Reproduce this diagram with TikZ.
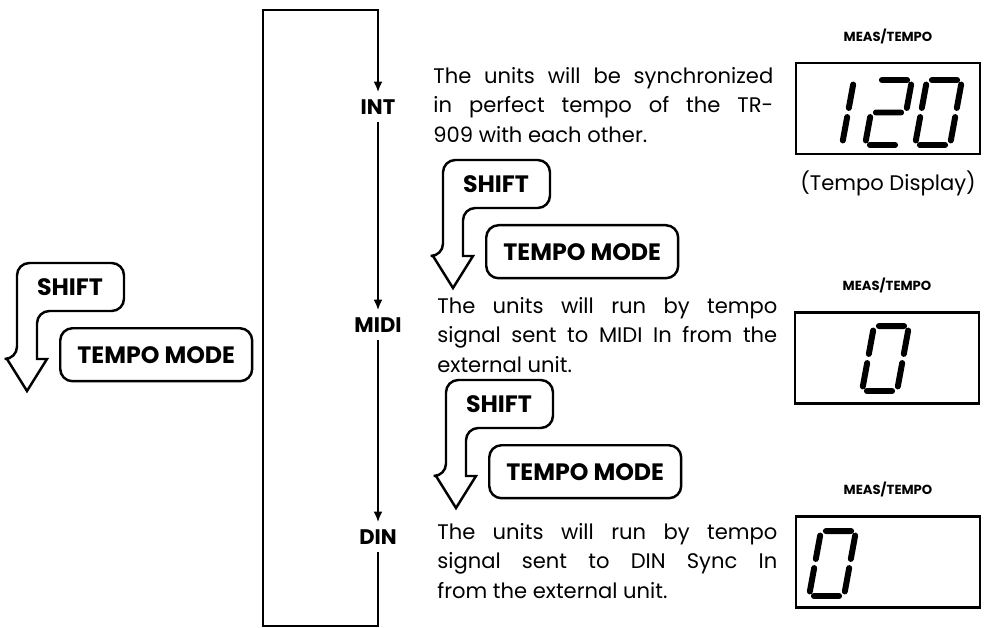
\documentclass[tikz,border=0pt]{standalone}
\usepackage{fontspec}
\setmainfont{Poppins}
\usetikzlibrary{arrows.meta,positioning}

% one cell of the seven segment readout, placed by its lower left corner
\newcommand\lcddigit[2]{%
  \begin{scope}[shift={#1}, x={(0.7cm,0cm)}, y={(0.12cm,0.65cm)}]
    \draw[seg] #2;
  \end{scope}}
\def\sA{(0.14,2)--(0.86,2)}
\def\sB{(1,1.86)--(1,1.14)}
\def\sC{(1,0.86)--(1,0.14)}
\def\sD{(0.14,0)--(0.86,0)}
\def\sE{(0,0.86)--(0,0.14)}
\def\sF{(0,1.86)--(0,1.14)}
\def\sG{(0.14,1)--(0.86,1)}

\begin{document}
\begin{tikzpicture}[
  x=0.02cm, y=-0.02cm,
  modename/.style={font=\bfseries\fontsize{12}{14}\selectfont, inner sep=4pt},
  keytext/.style={font=\bfseries\fontsize{13.5}{15}\selectfont},
  keyline/.style={line width=1.4pt, rounded corners=7pt},
  keybox/.style={draw, line width=1.4pt, rounded corners=7pt, minimum width=3.84cm, minimum height=1.06cm, font=\bfseries\fontsize{13.5}{15}\selectfont},
  flow/.style={line width=1.1pt, -{Latex[length=6pt,width=5pt]}},
  note/.style={text width=6.8cm, align=justify, inner sep=0pt, anchor=north west, font=\fontsize{12}{16.7}\selectfont},
  lcd/.style={draw, line width=1.2pt, minimum width=3.68cm, minimum height=1.82cm},
  lcdtitle/.style={font=\bfseries\fontsize{7.5}{9}\selectfont, inner sep=0pt},
  seg/.style={line width=3.4pt, line cap=round}
]
\useasboundingbox (0,0) rectangle (984,628);

% sync modes
\node[modename] (int) at (378,107) {INT};
\node[modename] (midi) at (378,325) {MIDI};
\node[modename] (din) at (378,537) {DIN};
\coordinate (tl) at (263,10);
\coordinate (bl) at (263,626);
\draw[flow] (int) -- (midi);
\draw[flow] (midi) -- (din);
\draw[flow] (din) |- (bl) -- (tl) -| (int);

% SHIFT + TEMPO MODE
\foreach \x/\y/\n in {17/263/a, 443/160/b, 446/380/c}{
  \node[keytext] (shift\n) at (\x+53,\y+24) {SHIFT};
  \draw[keyline] (\x+20,\y+96) -- (\x+20,\y+48) -- (\x+107,\y+48) -- (\x+107,\y) -- (\x,\y) -- (\x,\y+96)
    [sharp corners] -- (\x-10,\y+96) -- (\x+10,\y+128) -- (\x+30,\y+96) -- cycle;
  \node[keybox, anchor=north west] (mode\n) at (\x+42,\y+64) {TEMPO MODE};
}

\node[note] (intnote) at (433,67) {The units will be synchronized\linebreak in perfect tempo of the TR-\linebreak 909 with each other.};
\node[note] (midinote) at (437,297) {The units will run by tempo\linebreak signal sent to MIDI In from the\linebreak external unit.};
\node[note] (dinnote) at (437,523) {The units will run by tempo\linebreak signal sent to DIN Sync In\linebreak from the external unit.};

% displays
\node[lcd] (lcda) at (888,108.5) {};
\node[lcdtitle, above=0.36cm of lcda] (titlea) {MEAS/TEMPO};
\node[below=0.3cm of lcda, inner sep=0pt, font=\fontsize{12}{14}\selectfont] (captiona) {(Tempo Display)};
\node[lcd] (lcdb) at (887,358) {};
\node[lcdtitle, above=0.36cm of lcdb] (titleb) {MEAS/TEMPO};
\node[lcd] (lcdc) at (888,562) {};
\node[lcdtitle, above=0.36cm of lcdc] (titlec) {MEAS/TEMPO};

\lcddigit{(807,145)}{\sB \sC}
\lcddigit{(865,145)}{\sA \sB \sG \sE \sD}
\lcddigit{(915,145)}{\sA \sB \sC \sD \sE \sF}
\lcddigit{(862,391)}{\sA \sB \sC \sD \sE \sF}
\lcddigit{(809,596)}{\sA \sB \sC \sD \sE \sF}
\end{tikzpicture}
\end{document}
